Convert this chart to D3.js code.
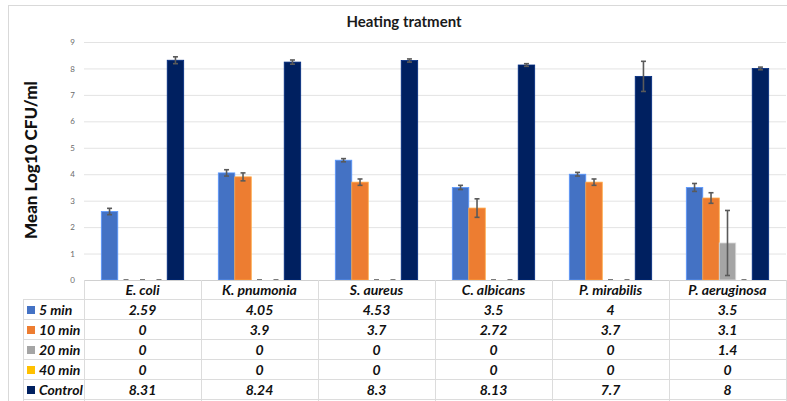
<!DOCTYPE html>
<html>
<head>
<meta charset="utf-8">
<script src="https://cdn.jsdelivr.net/npm/d3@7.9.0/dist/d3.min.js"></script>
<style>
  body { margin: 0; background: #fff; }
  svg { display: block; font-family: Lato, "Open Sans", sans-serif; }
</style>
</head>
<body>
<svg id="chart" width="787" height="401"></svg>
<script>
// data
const categories = ['E. coli', 'K. pnumonia', 'S. aureus', 'C. albicans', 'P. mirabilis', 'P. aeruginosa'];
const seriesNames = ['5 min', '10 min', '20 min', '40 min', 'Control'];
const seriesColors = ['#4472C4', '#ED7D31', '#A5A5A5', '#FFC000', '#002060'];
const min5 = [2.59, 4.05, 4.53, 3.5, 4, 3.5];
const min10 = [0, 3.9, 3.7, 2.72, 3.7, 3.1];
const min20 = [0, 0, 0, 0, 0, 1.4];
const min40 = [0, 0, 0, 0, 0, 0];
const control = [8.31, 8.24, 8.3, 8.13, 7.7, 8];
// error bar half-widths (estimated)
const err5 = [0.12, 0.12, 0.06, 0.08, 0.07, 0.15];
const err10 = [0, 0.15, 0.12, 0.35, 0.12, 0.2];
const err20 = [0, 0, 0, 0, 0, 1.23];
const err40 = [0, 0, 0, 0, 0, 0];
const errControl = [0.13, 0.08, 0.06, 0.05, 0.57, 0.05];
const yTicks = [0, 1, 2, 3, 4, 5, 6, 7, 8, 9];

const values = [min5, min10, min20, min40, control];
const errors = [err5, err10, err20, err40, errControl];

const svg = d3.select('#chart');

// outer chart frame
svg.append('rect')
    .attr('x', 8.5).attr('y', 5.5)
    .attr('width', 790).attr('height', 400)
    .attr('fill', '#fff').attr('stroke', '#d9d9d9');

svg.append('text')
    .attr('x', 404).attr('y', 27)
    .attr('text-anchor', 'middle')
    .attr('font-size', 15).attr('font-weight', 'bold')
    .attr('fill', '#1a1a1a')
    .text('Heating tratment');

const plotLeft = 84, plotRight = 786, plotTop = 42, plotBottom = 280;

const x = d3.scaleBand().domain(categories).range([plotLeft, plotRight]);
const xs = d3.scaleBand().domain(seriesNames)
    .range([0, x.bandwidth()]).paddingOuter(1.05).paddingInner(0);
const y = d3.scaleLinear().domain([0, 9]).range([plotBottom, plotTop]);

// gridlines
svg.append('g')
    .selectAll('line')
    .data(yTicks.slice(1))
    .join('line')
    .attr('x1', plotLeft).attr('x2', plotRight)
    .attr('y1', (d) => y(d) + 0.5).attr('y2', (d) => y(d) + 0.5)
    .attr('stroke', '#e3e3e3').attr('stroke-width', 1);

// y axis tick labels
const yAxis = d3.axisLeft(y).tickValues(yTicks).tickSize(0).tickPadding(6);
const yG = svg.append('g').attr('transform', `translate(${plotLeft - 3},0)`).call(yAxis);
yG.select('.domain').remove();
yG.selectAll('text').attr('font-size', 8).attr('fill', '#6b6b6b')
    .attr('font-family', 'Lato, sans-serif');

svg.append('text')
    .attr('transform', 'translate(37,160) rotate(-90)')
    .attr('text-anchor', 'middle')
    .attr('font-size', 17).attr('font-weight', 900)
    .attr('fill', '#111')
    .text('Mean Log10 CFU/ml');

// bars
const barData = [];
values.forEach((series, si) => {
    series.forEach((v, ci) => {
        barData.push({ cat: categories[ci], s: seriesNames[si], v: v, e: errors[si][ci], color: seriesColors[si] });
    });
});

svg.append('g')
    .selectAll('rect')
    .data(barData.filter((d) => d.v > 0))
    .join('rect')
    .attr('x', (d) => x(d.cat) + xs(d.s))
    .attr('y', (d) => y(d.v))
    .attr('width', xs.bandwidth())
    .attr('height', (d) => y(0) - y(d.v))
    .attr('fill', (d) => d.color)
    .attr('stroke', (d) => d3.color(d.color).brighter(0.8).formatHex())
    .attr('stroke-width', 0.8);

// error bars
const eg = svg.append('g').attr('stroke', '#5a5a5a');
barData.forEach((d) => {
    const cx = x(d.cat) + xs(d.s) + xs.bandwidth() / 2;
    const y1 = y(d.v + d.e), y2 = y(Math.max(0, d.v - d.e));
    if (d.e > 0) {
        eg.append('line').attr('x1', cx).attr('x2', cx).attr('y1', y1).attr('y2', y2).attr('stroke-width', 1.6);
    }
    eg.append('line').attr('x1', cx - 2.5).attr('x2', cx + 2.5).attr('y1', y1).attr('y2', y1).attr('stroke-width', 1.6);
    if (d.v > 0) {
        eg.append('line').attr('x1', cx - 2.5).attr('x2', cx + 2.5).attr('y1', y2).attr('y2', y2).attr('stroke-width', 1.6);
    }
});

// data table
const rowH = 20;
const tableTop = plotBottom;
const legendLeft = 23;
const tg = svg.append('g');

// axis line / table top
tg.append('line').attr('x1', plotLeft).attr('x2', plotRight)
    .attr('y1', tableTop + 0.5).attr('y2', tableTop + 0.5).attr('stroke', '#d0d0d0');
// horizontal row lines
d3.range(1, seriesNames.length + 2).forEach((i) => {
    tg.append('line').attr('x1', legendLeft).attr('x2', plotRight)
        .attr('y1', tableTop + i * rowH - 0.5).attr('y2', tableTop + i * rowH - 0.5)
        .attr('stroke', '#dcdcdc');
});
// vertical lines
tg.append('line').attr('x1', legendLeft + 0.5).attr('x2', legendLeft + 0.5)
    .attr('y1', tableTop + rowH).attr('y2', 401).attr('stroke', '#dcdcdc');
categories.concat(['end']).forEach((c, i) => {
    const xx = i < categories.length ? x(c) : plotRight;
    tg.append('line').attr('x1', xx + 0.5).attr('x2', xx + 0.5)
        .attr('y1', tableTop).attr('y2', 401).attr('stroke', '#dcdcdc');
});

const cellFont = (sel) => sel.attr('font-size', 14).attr('font-weight', 'bold')
    .attr('font-style', 'italic').attr('fill', '#111');

// header
categories.forEach((c) => {
    tg.append('text').attr('x', x(c) + x.bandwidth() / 2).attr('y', tableTop + 15)
        .attr('text-anchor', 'middle').call(cellFont).text(c);
});

seriesNames.forEach((s, si) => {
    const rowY = tableTop + (si + 1) * rowH;
    tg.append('rect').attr('x', 27).attr('y', rowY + 6).attr('width', 8).attr('height', 8)
        .attr('fill', seriesColors[si]);
    tg.append('text').attr('x', 39).attr('y', rowY + 15).call(cellFont).text(s);
    values[si].forEach((v, ci) => {
        tg.append('text').attr('x', x(categories[ci]) + x.bandwidth() / 2).attr('y', rowY + 15)
            .attr('text-anchor', 'middle').call(cellFont).text(v);
    });
});
</script>
</body>
</html>
